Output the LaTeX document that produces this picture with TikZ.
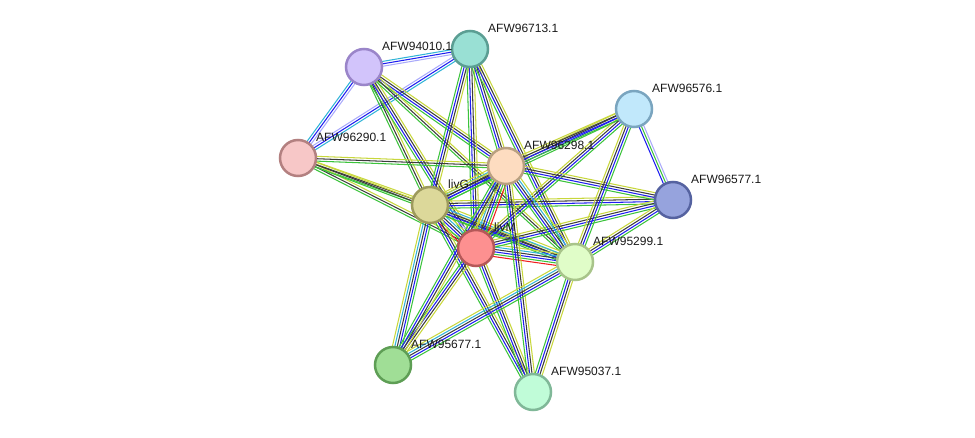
\documentclass[tikz,border=0pt]{standalone}
\usepackage{fontspec}
\setmainfont{Liberation Sans}
\usetikzlibrary{calc,backgrounds}
\definecolor{cgreen}{RGB}{60,195,60}
\definecolor{cblue}{RGB}{30,30,240}
\definecolor{cblack}{RGB}{60,60,60}
\definecolor{cyel}{RGB}{200,215,60}
\definecolor{ccyan}{RGB}{50,180,215}
\definecolor{clav}{RGB}{170,170,250}
\definecolor{cred}{RGB}{240,30,30}
\tikzset{
  prot/.style={circle, minimum size=36pt, inner sep=0pt, line width=2.5pt},
  plabel/.style={anchor=west, inner sep=0pt, font=\fontsize{12}{14}\selectfont, text=black!90},
}
\newcommand\bund[3]{%
  \foreach \c [count=\i] in {#3}{\xdef\nbund{\i}}%
  \foreach \c [count=\i] in {#3}{%
    \pgfmathsetmacro\off{(\i-(\nbund+1)/2)*2.4}%
    \draw[\c, line width=1.05pt] ($(#1)!\off pt!90:(#2)$) -- ($(#2)!\off pt!-90:(#1)$);
  }}
\begin{document}
\begin{tikzpicture}[x=1pt,y=-1pt]
\useasboundingbox (0,0) rectangle (975,438);
% nodes
\node[prot, fill={rgb,255:red,210;green,196;blue,251}, draw={rgb,255:red,154;green,133;blue,201}] (a94010) at (364,67) {};
\node[prot, fill={rgb,255:red,153;green,224;blue,212}, draw={rgb,255:red,91;green,158;blue,147}] (a96713) at (470,49) {};
\node[prot, fill={rgb,255:red,247;green,199;blue,199}, draw={rgb,255:red,179;green,128;blue,128}] (a96290) at (298,158) {};
\node[prot, fill={rgb,255:red,253;green,220;blue,192}, draw={rgb,255:red,184;green,160;blue,128}] (a96298) at (506,166) {};
\node[prot, fill={rgb,255:red,220;green,216;blue,154}, draw={rgb,255:red,157;green,154;blue,93}] (livG) at (430,205) {};
\node[prot, fill={rgb,255:red,253;green,144;blue,144}, draw={rgb,255:red,181;green,88;blue,88}] (livM) at (476,248) {};
\node[prot, fill={rgb,255:red,224;green,253;blue,200}, draw={rgb,255:red,168;green,196;blue,138}] (a95299) at (575,262) {};
\node[prot, fill={rgb,255:red,193;green,232;blue,251}, draw={rgb,255:red,122;green,165;blue,191}] (a96576) at (634,109) {};
\node[prot, fill={rgb,255:red,150;green,163;blue,221}, draw={rgb,255:red,85;green,98;blue,160}] (a96577) at (673,200) {};
\node[prot, fill={rgb,255:red,160;green,222;blue,150}, draw={rgb,255:red,94;green,158;blue,85}] (a95677) at (393,365) {};
\node[prot, fill={rgb,255:red,192;green,252;blue,216}, draw={rgb,255:red,128;green,184;blue,152}] (a95037) at (533,392) {};
% labels
\node[plabel] (l94010) at ($(a94010)+(18,-21)$) {AFW94010.1};
\node[plabel] (l96713) at ($(a96713)+(18,-21)$) {AFW96713.1};
\node[plabel] (l96290) at ($(a96290)+(18,-21)$) {AFW96290.1};
\node[plabel] (l96298) at ($(a96298)+(18,-21)$) {AFW96298.1};
\node[plabel] (llivG) at ($(livG)+(18,-21)$) {livG};
\node[plabel] (llivM) at ($(livM)+(18,-21)$) {livM};
\node[plabel] (l95299) at ($(a95299)+(18,-21)$) {AFW95299.1};
\node[plabel] (l96576) at ($(a96576)+(18,-21)$) {AFW96576.1};
\node[plabel] (l96577) at ($(a96577)+(18,-21)$) {AFW96577.1};
\node[plabel] (l95677) at ($(a95677)+(18,-21)$) {AFW95677.1};
\node[plabel] (l95037) at ($(a95037)+(18,-21)$) {AFW95037.1};
% edges
\begin{pgfonlayer}{background}
\bund{a94010}{a96713}{clav,cblue,ccyan}
\bund{a94010}{a96290}{ccyan,cblue,clav}
\bund{a96713}{a96290}{clav,cblue,ccyan}
\bund{a94010}{livG}{cgreen,cblack,cyel}
\bund{a94010}{a96298}{cgreen,cblue,cblack,cyel}
\bund{a94010}{livM}{cgreen,cblue,cblack,cyel}
\bund{a94010}{a95299}{cgreen,cblack,cyel}
\bund{a96713}{livG}{cgreen,cblue,cblack,cyel}
\bund{a96713}{livM}{cgreen,cblue,cblack,cyel}
\bund{a96713}{a96298}{cgreen,cblue,cblack,cyel}
\bund{a96713}{a95299}{cgreen,cblue,cblack,cyel}
\bund{a96290}{a96298}{cgreen,cblack,cyel}
\bund{a96290}{livG}{cgreen,cblack,cyel}
\bund{a96290}{livM}{cgreen,cblack,cyel}
\bund{a96290}{a95299}{cgreen,cblack,cyel}
\bund{livG}{livM}{cred,cgreen,cblue,cblack,ccyan,cyel,clav}
\bund{livG}{a96298}{cgreen,cblue,cblack,ccyan,cyel}
\bund{livG}{a95299}{cgreen,cblue,cblack,ccyan,cyel}
\bund{livG}{a96577}{cgreen,cblue,cblack,cyel}
\bund{livG}{a96576}{cgreen,cblue,cblack,cyel}
\bund{livG}{a95677}{cyel,ccyan,cblack,cblue,cgreen}
\bund{livG}{a95037}{cgreen,cblue,cblack,cyel}
\bund{livM}{a96298}{cred,cgreen,cblue,cblack,ccyan,cyel}
\bund{livM}{a95299}{cred,cgreen,cblue,cblack,ccyan,cyel}
\bund{livM}{a96577}{cgreen,cblue,cblack,cyel}
\bund{livM}{a96576}{cgreen,cblue,cblack,cyel}
\bund{livM}{a95677}{cgreen,cblue,cblack,cyel}
\bund{livM}{a95037}{cgreen,cblue,cblack,cyel}
\bund{a96298}{a95299}{cgreen,cblue,cblack,ccyan,cyel}
\bund{a96298}{a96576}{cgreen,cblue,cblack,cyel}
\bund{a96298}{a96577}{cgreen,cblue,cblack,cyel}
\bund{a96298}{a95677}{cgreen,cblue,cblack,cyel}
\bund{a96298}{a95037}{cgreen,cblue,cblack,cyel}
\bund{a95299}{a96576}{cgreen,cblue,cblack,cyel}
\bund{a95299}{a96577}{cgreen,cblue,cblack,cyel}
\bund{a95299}{a95677}{cyel,ccyan,cblack,cblue,cgreen}
\bund{a95299}{a95037}{cgreen,cblue,cblack,cyel}
\bund{a96576}{a96577}{cblue,cgreen,clav}
\end{pgfonlayer}
\end{tikzpicture}
\end{document}
